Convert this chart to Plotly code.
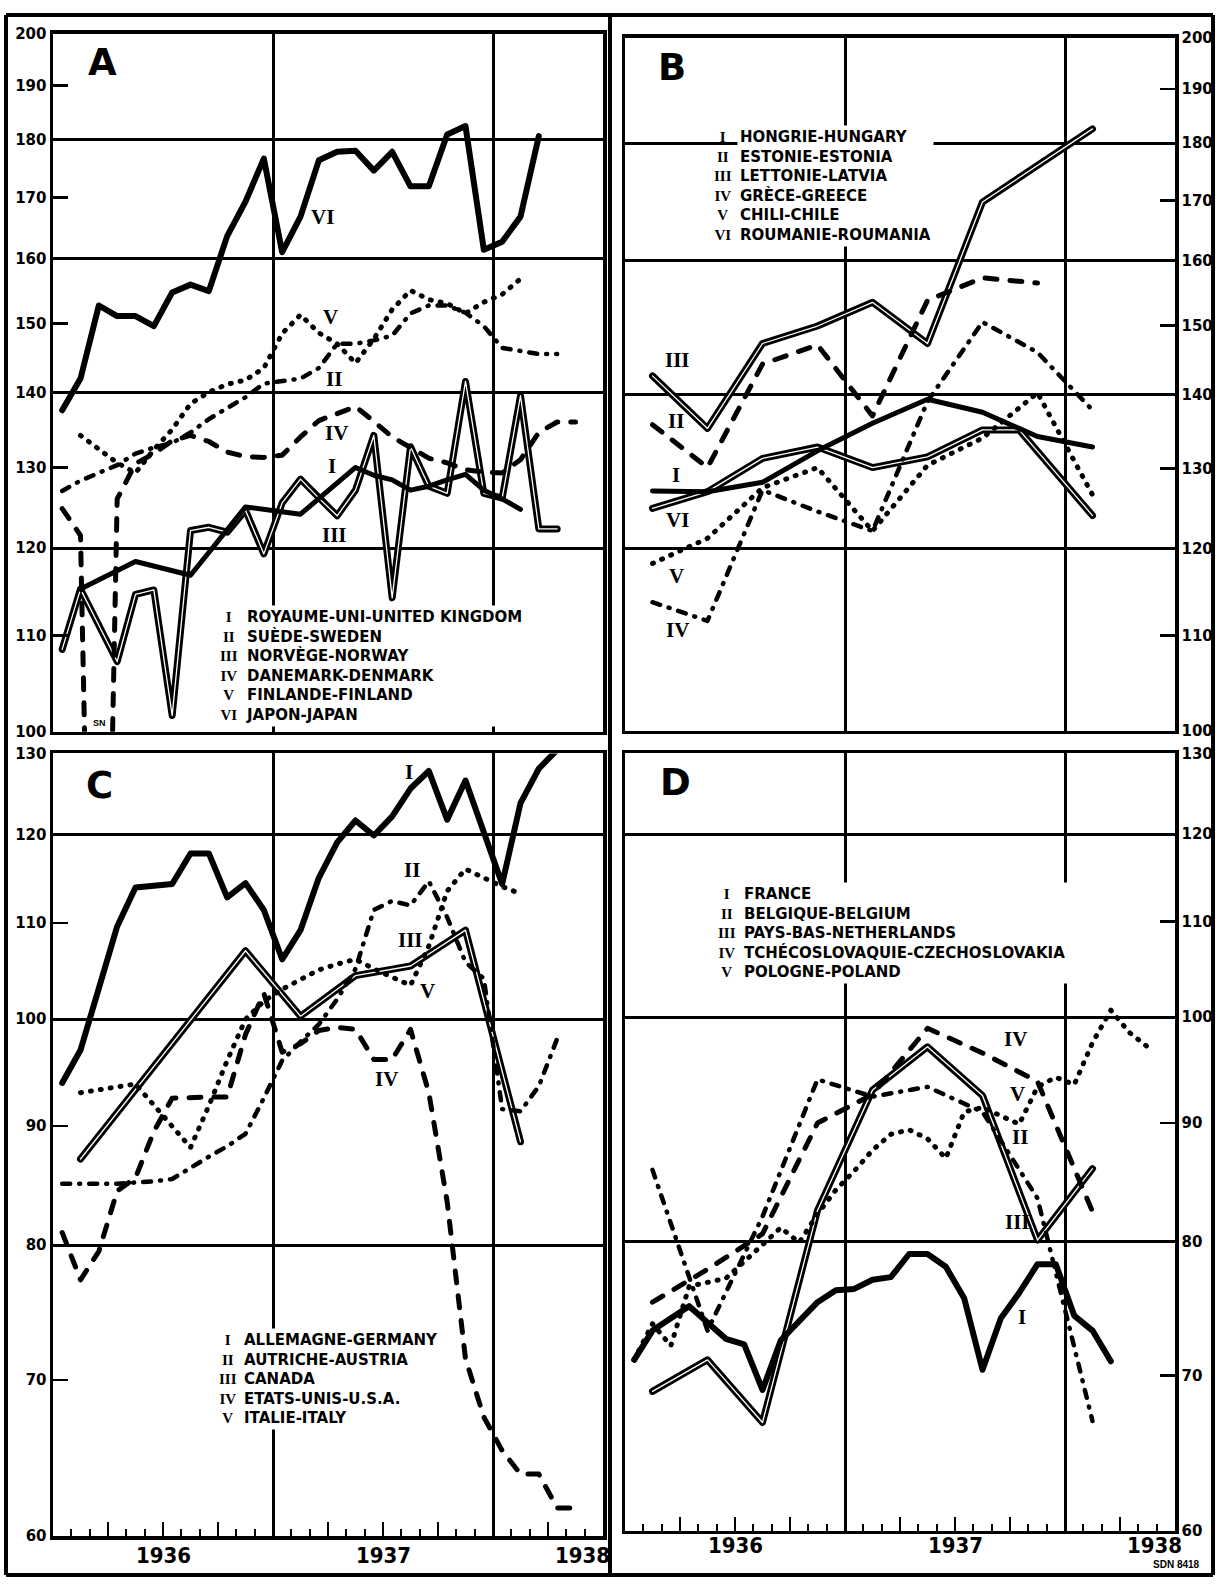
import math
import plotly.graph_objects as go

N = None

# ---------------- time axis: monthly index, 0 = January 1936 ... 29 = June 1938 ----------------
MONTH_INDEX = list(range(30))
YEAR_LABELS = ["1936", "1937", "1938"]
YEAR_LABEL_AT = [5.5, 17.5, 28.4]
YEAR_BOUNDS = [11.5, 23.5]
MONTH_BOUNDS = [b - 0.5 for b in range(1, 30)]
QUARTER_BOUNDS = [b - 0.5 for b in range(3, 30, 3)]
X_RANGE = [-0.5, 29.5]

# ---------------- y scales (logarithmic) ----------------
Y_TICKS_TOP = [100, 110, 120, 130, 140, 150, 160, 170, 180, 190, 200]
Y_GRID_TOP = [120, 140, 160, 180]
Y_TICKS_BOTTOM = [60, 70, 80, 90, 100, 110, 120, 130]
Y_GRID_BOTTOM = [80, 100, 120]

# ---------------- Panel A ----------------
A_UK = [N, 115.2, N, N, 118.4, N, N, 116.8, N, N, 125.0, N, N, 124.1, N, N, 130.0, 129.0, 128.4, 127.1,
        127.6, 128.4, 129.1, 127.1, 126.0, 124.7, N, N, N, N]
A_SWEDEN = [127.0, 128.3, 129.3, 130.3, 131.8, 132.6, 133.2, 134.6, 136.4, 137.9, 139.4, 141.3, 141.6, 142.0,
            143.5, 147.0, 147.0, 147.5, 148.2, 151.5, 152.7, 152.7, 151.6, 149.6, 146.4, 146.0, 145.5, 145.5, N, N]
A_NORWAY = [108.5, 115.2, N, 107.2, 114.6, 115.1, 101.6, 122.1, 122.5, 121.9, 124.6, 119.3, 125.5, 128.5,
            126.1, 123.9, 127.1, 134.2, 114.2, 132.7, 127.6, 126.7, 141.6, 126.7, 126.1, 139.6, 122.3, 122.3, N, N]
A_DENMARK = [124.8, 121.5, 50.0, 126.0, 130.5, 131.8, 133.5, 134.2, 133.4, 132.0, 131.4, 131.3, 131.6, 134.0,
             136.2, 137.2, 138.1, 136.1, 134.0, 132.6, 131.2, 130.6, 129.7, 129.4, 129.3, 131.0, 134.6, 136.0, 136.0, N]
A_FINLAND = [N, 134.2, 132.4, 130.6, 129.3, 132.3, 135.0, 138.5, 140.1, 141.2, 141.8, 143.5, 148.5, 151.3,
             148.6, 147.0, 144.2, 147.7, 152.1, 155.0, 153.6, 153.0, 151.5, 153.2, 154.4, 156.8, N, N, N, N]
A_JAPAN = [137.6, 142.0, 152.7, 151.1, 151.1, 149.6, 154.7, 155.9, 154.9, 163.6, 169.3, 176.7, 161.0, 166.8,
           176.4, 177.9, 178.1, 174.6, 177.9, 171.9, 171.9, 181.0, 182.5, 161.4, 162.7, 166.8, 180.7, N, N, N]

# ---------------- Panel B ----------------
B_HUNGARY = [N, 127.1, N, N, 127.0, N, N, 128.2, N, N, 132.3, N, N, 136.0, N, N, 139.3, N, N, 137.5,
             N, N, 134.2, N, N, 132.8, N, N, N, N]
B_ESTONIA = [N, 135.8, N, N, 130.1, N, N, 144.3, N, N, 147.1, N, N, 137.0, N, N, 153.8, N, N, 157.3,
             N, N, 156.5, N, N, N, N, N, N, N]
B_LATVIA = [N, 142.6, N, N, 135.3, N, N, 147.3, N, N, 149.9, N, N, 153.5, N, N, 147.3, N, N, 169.7,
            N, N, 176.0, N, N, 182.6, N, N, N, N]
B_GREECE = [N, 113.7, N, N, 111.6, N, N, 127.2, N, N, 124.5, N, N, 122.1, N, N, 139.0, N, N, 150.5,
            N, N, 146.0, N, N, 137.8, N, N, N, N]
B_CHILE = [N, 118.2, N, N, 121.2, N, N, 127.5, N, N, 130.1, N, N, 122.1, N, N, 130.4, N, N, 134.0,
           N, N, 140.2, N, N, 126.6, N, N, N, N]
B_ROUMANIA = [N, 124.9, N, N, 127.0, N, N, 131.3, N, N, 132.8, N, N, 130.1, N, N, 131.5, N, N, 135.1,
              N, 135.1, N, N, N, 124.0, N, N, N, N]

# ---------------- Panel C ----------------
C_GERMANY = [93.9, 97.0, 103.1, 109.6, 113.9, 114.1, 114.3, 117.8, 117.8, 112.8, 114.4, 111.4, 106.1, 109.2,
             115.0, 119.1, 121.7, 119.9, 122.2, 125.6, 127.8, 121.8, 126.6, 120.3, 114.3, 123.8, 128.1, 130.5, N, N]
C_AUSTRIA = [85.0, 85.0, 85.0, 85.0, 85.1, 85.2, 85.4, 86.4, 87.3, 88.2, 89.3, 92.5, 96.0, 97.8,
             99.5, 102.0, 105.1, 111.4, 112.4, 111.9, 114.6, 110.6, 105.8, 104.1, 91.5, 91.3, 93.6, 98.1, N, N]
C_CANADA = [N, 87.1, N, N, N, N, N, N, N, N, 107.0, N, N, 100.3, N, N, 104.4, N, N, 105.4,
            N, N, 109.2, N, N, 88.6, N, N, N, N]
C_USA = [81.0, 77.3, 79.5, 84.4, 85.5, 89.5, 92.5, 92.6, 92.6, 92.6, 98.5, 102.6, 96.8, 97.6,
         98.9, 99.2, 99.0, 96.1, 96.1, 99.0, 93.0, 83.5, 71.5, 67.5, 65.3, 63.8, 63.8, 61.7, 61.7, N]
C_ITALY = [N, 93.0, N, N, 93.8, N, N, 88.1, 91.8, 96.0, 100.0, 101.8, 103.0, 104.0,
           105.0, 105.6, 106.1, 105.1, 104.3, 103.4, 107.5, 113.5, 116.0, 115.0, 114.0, 113.2, N, N, N, N]

# ---------------- Panel D ----------------
D_FRANCE = [71.1, 73.2, 74.1, 75.0, 73.8, 72.6, 72.2, 69.0, 72.5, 73.9, 75.3, 76.2, 76.3, 77.0,
            77.2, 79.0, 79.0, 78.0, 75.6, 70.4, 74.1, 76.0, 78.2, 78.2, 74.3, 73.2, 71.0, N, N, N]
D_BELGIUM = [N, 85.9, N, N, 73.2, N, N, 82.0, N, N, 94.0, N, N, 92.4, N, N, 93.3, N, N, 91.0,
             N, N, 83.5, N, N, 66.9, N, N, N, N]
D_NETHERLANDS = [N, 68.9, N, N, 71.1, N, N, 66.8, N, N, 82.5, N, N, 93.0, N, N, 97.1, N, N, 92.5,
                 N, N, 80.1, N, N, 86.0, N, N, N, N]
D_CZECH = [N, 75.3, N, N, 77.8, N, N, 80.6, N, N, 90.0, N, N, 92.6, N, N, 98.9, N, N, 96.5,
           N, N, 93.8, N, N, 82.4, N, N, N, N]
D_POLAND = [71.1, 73.7, 72.1, 76.5, 76.8, 77.1, 78.4, 79.8, 81.1, 79.9, 82.2, 84.2, 85.8, 87.6,
            89.0, 89.4, 88.6, 86.9, 91.0, 91.4, 90.6, 89.9, 93.3, 94.2, 93.5, 97.5, 100.7, 98.5, 97.1, N]

# ---------------- legend texts ----------------
NUMERALS = ["I", "II", "III", "IV", "V", "VI"]
LEGEND_A = ["ROYAUME-UNI-UNITED KINGDOM", "SUÈDE-SWEDEN", "NORVÈGE-NORWAY", "DANEMARK-DENMARK",
            "FINLANDE-FINLAND", "JAPON-JAPAN"]
LEGEND_B = ["HONGRIE-HUNGARY", "ESTONIE-ESTONIA", "LETTONIE-LATVIA", "GRÈCE-GREECE", "CHILI-CHILE",
            "ROUMANIE-ROUMANIA"]
LEGEND_C = ["ALLEMAGNE-GERMANY", "AUTRICHE-AUSTRIA", "CANADA", "ETATS-UNIS-U.S.A.", "ITALIE-ITALY"]
LEGEND_D = ["FRANCE", "BELGIQUE-BELGIUM", "PAYS-BAS-NETHERLANDS", "TCHÉCOSLOVAQUIE-CZECHOSLOVAKIA",
            "POLOGNE-POLAND"]

# =====================================================================
W, H = 1218, 1587


def fx(p):
    return p / W


def fy(p):
    return 1 - p / H


GEOM = {
    "A": dict(x0=53, x1=603, y0=25, y1=731),
    "B": dict(x0=625, x1=1175, y0=29, y1=730),
    "C": dict(x0=53, x1=603, y0=753, y1=1545),
    "D": dict(x0=625, x1=1175, y0=753, y1=1539),
}
AXES = {"A": ("x", "y"), "B": ("x2", "y2"), "C": ("x3", "y3"), "D": ("x4", "y4")}

fig = go.Figure()


def add_series(values, style, panel, width=5):
    xa, ya = AXES[panel]
    common = dict(x=MONTH_INDEX, y=values, mode="lines", connectgaps=True, xaxis=xa, yaxis=ya,
                  hoverinfo="skip", showlegend=False)
    if style == "double":
        fig.add_trace(go.Scatter(**common, line=dict(color="black", width=7)))
        fig.add_trace(go.Scatter(**common, line=dict(color="white", width=1.3)))
    elif style == "solid":
        fig.add_trace(go.Scatter(**common, line=dict(color="black", width=width)))
    elif style == "dash":
        fig.add_trace(go.Scatter(**common, line=dict(color="black", width=5, dash="12px,13px")))
    elif style == "dashdot":
        fig.add_trace(go.Scatter(**common, line=dict(color="black", width=4.5, dash="8px,9px,1px,9px")))
    elif style == "dot":
        fig.add_trace(go.Scatter(**common, line=dict(color="black", width=5, dash="1px,9px")))


# Panel A
add_series(A_NORWAY, "double", "A")
add_series(A_UK, "solid", "A", 5)
add_series(A_SWEDEN, "dashdot", "A")
add_series(A_DENMARK, "dash", "A")
add_series(A_FINLAND, "dot", "A")
add_series(A_JAPAN, "solid", "A", 6)
# Panel B
add_series(B_LATVIA, "double", "B")
add_series(B_ROUMANIA, "double", "B")
add_series(B_HUNGARY, "solid", "B", 5)
add_series(B_ESTONIA, "dash", "B")
add_series(B_GREECE, "dashdot", "B")
add_series(B_CHILE, "dot", "B")
# Panel C
add_series(C_CANADA, "double", "C")
add_series(C_GERMANY, "solid", "C", 6)
add_series(C_AUSTRIA, "dashdot", "C")
add_series(C_USA, "dash", "C")
add_series(C_ITALY, "dot", "C")
# Panel D
add_series(D_NETHERLANDS, "double", "D")
add_series(D_FRANCE, "solid", "D", 6)
add_series(D_BELGIUM, "dashdot", "D")
add_series(D_CZECH, "dash", "D")
add_series(D_POLAND, "dot", "D")

# empty traces so the quarter-tick overlay axes exist
fig.add_trace(go.Scatter(x=[], y=[], xaxis="x5", yaxis="y3", showlegend=False, hoverinfo="skip"))
fig.add_trace(go.Scatter(x=[], y=[], xaxis="x6", yaxis="y4", showlegend=False, hoverinfo="skip"))

TICKFONT = dict(family="DejaVu Sans", size=15, color="black", weight="bold")
GRID_W = 3


def xaxis_cfg(g, anchor, month_ticks):
    d = dict(domain=[fx(g["x0"]), fx(g["x1"])], anchor=anchor, range=X_RANGE, showline=True, mirror=True,
             linecolor="black", linewidth=3.5, zeroline=False, tickmode="array", tickvals=YEAR_BOUNDS,
             showgrid=True, gridcolor="black", gridwidth=GRID_W, showticklabels=False,
             ticks="inside" if month_ticks else "", ticklen=14, tickwidth=2, tickcolor="black", fixedrange=True)
    if month_ticks:
        d["minor"] = dict(tickmode="array", tickvals=MONTH_BOUNDS, ticks="inside", ticklen=7, tickwidth=2,
                          tickcolor="black", showgrid=False)
    return d


def overlay_cfg(g, base, anchor):
    return dict(domain=[fx(g["x0"]), fx(g["x1"])], overlaying=base, anchor=anchor, range=X_RANGE,
                tickmode="array", tickvals=QUARTER_BOUNDS, ticks="inside", ticklen=14, tickwidth=2,
                tickcolor="black", showticklabels=False, showgrid=False, showline=False, zeroline=False,
                fixedrange=True)


def yaxis_cfg(g, anchor, lo, hi, ticks, grid, side):
    return dict(domain=[fy(g["y1"]), fy(g["y0"])], anchor=anchor, type="log",
                range=[math.log10(lo) - 1e-4, math.log10(hi) + 1e-4], side=side,
                showline=True, mirror=True, linecolor="black", linewidth=3.5, zeroline=False,
                tickmode="array", tickvals=ticks, ticktext=[str(t) for t in ticks], ticks="inside",
                ticklen=15, tickwidth=2.5, tickcolor="black", showgrid=False,
                minor=dict(tickmode="array", tickvals=grid, showgrid=True, gridcolor="black", gridwidth=GRID_W,
                           ticks=""),
                tickfont=TICKFONT, fixedrange=True)


layout = dict(
    width=W, height=H, margin=dict(l=0, r=0, t=0, b=0), paper_bgcolor="white", plot_bgcolor="rgba(0,0,0,0)",
    showlegend=False,
    xaxis=xaxis_cfg(GEOM["A"], "y", False),
    yaxis=yaxis_cfg(GEOM["A"], "x", 100, 200, Y_TICKS_TOP, Y_GRID_TOP, "left"),
    xaxis2=xaxis_cfg(GEOM["B"], "y2", False),
    yaxis2=yaxis_cfg(GEOM["B"], "x2", 100, 200, Y_TICKS_TOP, Y_GRID_TOP, "right"),
    xaxis3=xaxis_cfg(GEOM["C"], "y3", True),
    yaxis3=yaxis_cfg(GEOM["C"], "x3", 60, 130, Y_TICKS_BOTTOM, Y_GRID_BOTTOM, "left"),
    xaxis4=xaxis_cfg(GEOM["D"], "y4", True),
    yaxis4=yaxis_cfg(GEOM["D"], "x4", 60, 130, Y_TICKS_BOTTOM, Y_GRID_BOTTOM, "right"),
    xaxis5=overlay_cfg(GEOM["C"], "x3", "y3"),
    xaxis6=overlay_cfg(GEOM["D"], "x4", "y4"),
)
fig.update_layout(**layout)

annotations = []
LETTER_FONT = dict(family="DejaVu Sans", size=37, color="black", weight="bold")
for letter, (px_, py_) in {"A": (102, 54), "B": (672, 59), "C": (99, 785), "D": (675, 782)}.items():
    annotations.append(dict(text=letter, x=fx(px_), y=fy(py_), xref="paper", yref="paper", showarrow=False,
                            xanchor="center", yanchor="middle", font=LETTER_FONT))

LEG_FONT = dict(family="DejaVu Sans", size=15, color="black", weight="bold")
NUM_FONT = dict(family="Liberation Serif", size=15, color="black", weight="bold")


def add_legend(lines, num_x, text_x, center_y):
    annotations.append(dict(text="<br>".join(NUMERALS[:len(lines)]), x=fx(num_x), y=fy(center_y),
                            xref="paper", yref="paper", showarrow=False, xanchor="center", yanchor="middle",
                            align="center", font=NUM_FONT))
    annotations.append(dict(text="<br>".join(lines), x=fx(text_x), y=fy(center_y), xref="paper", yref="paper",
                            showarrow=False, xanchor="left", yanchor="middle", align="left", font=LEG_FONT,
                            bgcolor="white", borderpad=2))


add_legend(LEGEND_A, 229, 243, 665)
add_legend(LEGEND_B, 723, 737, 179)
add_legend(LEGEND_C, 228, 241, 1386)
add_legend(LEGEND_D, 727, 741, 935)

SERIES_LABEL_FONT = dict(family="Liberation Serif", size=21, color="black", weight="bold")
SERIES_LABELS = [
    ("VI", 322, 210), ("V", 330, 312), ("II", 334, 374), ("IV", 336, 429), ("I", 332, 462), ("III", 334, 532),
    ("III", 677, 355), ("II", 676, 417), ("I", 676, 471), ("VI", 677, 517), ("V", 676, 573), ("IV", 677, 628),
    ("I", 409, 772), ("II", 412, 871), ("III", 410, 942), ("V", 427, 993), ("IV", 386, 1082),
    ("IV", 1015, 1042), ("V", 1017, 1097), ("II", 1020, 1141), ("III", 1017, 1227), ("I", 1022, 1323),
]
for txt, px_, py_ in SERIES_LABELS:
    annotations.append(dict(text=txt, x=fx(px_), y=fy(py_), xref="paper", yref="paper", showarrow=False,
                            xanchor="center", yanchor="middle", font=SERIES_LABEL_FONT))

YEAR_FONT = dict(family="Liberation Sans Narrow, DejaVu Sans Condensed, Liberation Sans", size=22,
                 color="black", weight="bold")
for xa, ypix in (("x3", 1564), ("x4", 1554)):
    for lab, pos in zip(YEAR_LABELS, YEAR_LABEL_AT):
        annotations.append(dict(text=lab, x=pos, y=fy(ypix), xref=xa, yref="paper", showarrow=False,
                                xanchor="center", yanchor="middle", font=YEAR_FONT))

annotations.append(dict(text="SDN 8418", x=fx(1176), y=fy(1573), xref="paper", yref="paper", showarrow=False,
                        xanchor="center", yanchor="middle",
                        font=dict(family="Liberation Sans", size=10, color="black", weight="bold")))
annotations.append(dict(text="SN", x=fx(99), y=fy(722), xref="paper", yref="paper", showarrow=False,
                        xanchor="center", yanchor="middle",
                        font=dict(family="Liberation Sans", size=9, color="black", weight="bold")))

fig.update_layout(annotations=annotations)

# outer frame and central divider
shapes = []
for (x0, y0, x1, y1) in [(6, 6, 1213, 6), (6, 1584, 1213, 1584), (6, 6, 6, 1584), (1213, 6, 1213, 1584),
                         (610, 6, 610, 1584)]:
    shapes.append(dict(type="line", xref="paper", yref="paper", x0=fx(x0), y0=fy(y0), x1=fx(x1), y1=fy(y1),
                       line=dict(color="black", width=4)))
fig.update_layout(shapes=shapes)

POST = """
document.body.style.margin = '0';
document.querySelectorAll('.scatterlayer .js-line').forEach(function(p){
  p.style.strokeLinecap = 'round';
  p.style.strokeLinejoin = 'round';
});
"""

fig.write_html("out.html", post_script=POST, config={"displayModeBar": False, "staticPlot": True})
